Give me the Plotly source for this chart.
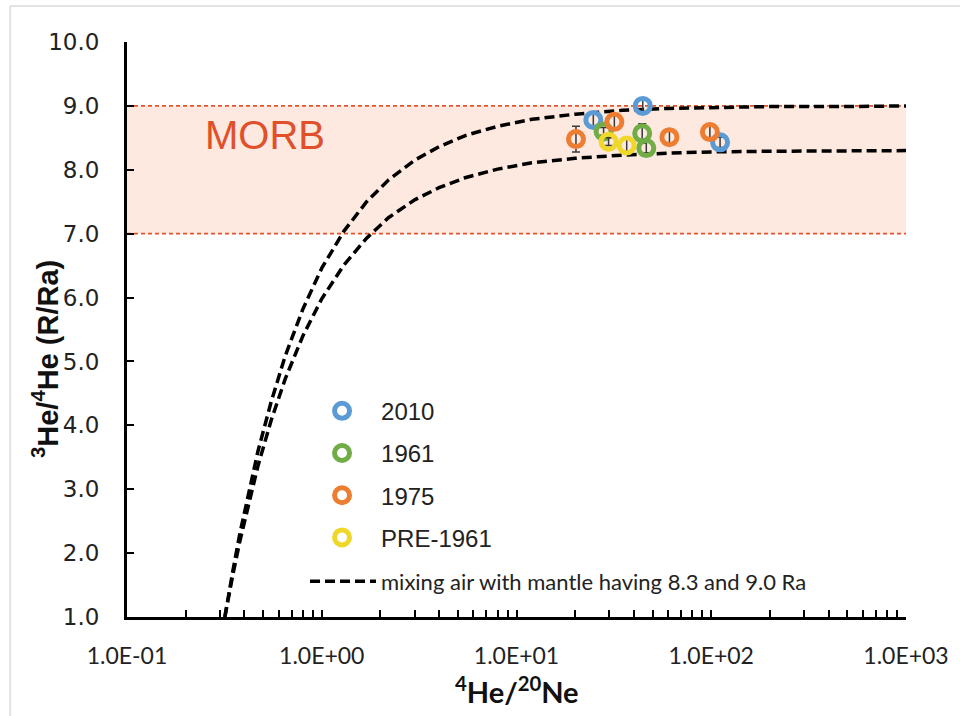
import plotly.graph_objects as go

# ---------------- data ----------------
series_names = ["2010", "1961", "1975", "PRE-1961"]
series_colors = ["#5B9BD5", "#70AD47", "#ED7D31", "#F0D82A"]

x_2010 = [24.8, 44.5, 111.0]
y_2010 = [8.78, 9.00, 8.43]
e_2010 = [0.12, 0.12, 0.08]

x_1961 = [28.0, 44.2, 46.4]
y_1961 = [8.60, 8.57, 8.34]
e_1961 = [0.06, 0.15, 0.12]

x_1975 = [20.2, 31.8, 61.0, 98.4]
y_1975 = [8.48, 8.75, 8.51, 8.59]
e_1975 = [0.20, 0.10, 0.10, 0.12]

x_pre = [29.7, 36.8]
y_pre = [8.44, 8.38]
e_pre = [0.06, 0.12]

# mixing curves
mix_x = [0.318, 0.33, 0.35, 0.38, 0.42, 0.47, 0.55, 0.65, 0.8, 1.0, 1.3, 1.7,
         2.2, 3.0, 4.0, 5.5, 8.0, 12.0, 20.0, 35.0, 60.0, 100.0, 200.0, 500.0, 1000.0]
mix_y_90 = [1.00, 1.29, 1.73, 2.31, 2.94, 3.59, 4.37, 5.09, 5.82, 6.46, 7.04, 7.50,
            7.84, 8.15, 8.36, 8.54, 8.68, 8.79, 8.87, 8.93, 8.96, 8.97, 8.99, 8.99, 9.00]
mix_y_83 = [1.00, 1.27, 1.67, 2.19, 2.77, 3.36, 4.08, 4.73, 5.40, 5.98, 6.51, 6.93,
            7.25, 7.53, 7.72, 7.88, 8.01, 8.11, 8.18, 8.23, 8.26, 8.28, 8.29, 8.30, 8.30]

morb_low, morb_high = 7.0, 9.0

x_tickvals = [0.1, 1, 10, 100, 1000]
x_ticktext = ["1.0E-01", "1.0E+00", "1.0E+01", "1.0E+02", "1.0E+03"]
y_tickvals = [1, 2, 3, 4, 5, 6, 7, 8, 9, 10]

# ---------------- figure ----------------
fig = go.Figure()

fig.add_trace(go.Scatter(x=mix_x, y=mix_y_90, mode="lines",
                         line=dict(color="black", width=3.5, dash="10px,5px"),
                         name="mixing air with mantle having 8.3 and 9.0 Ra",
                         legend="legend2", showlegend=True))
fig.add_trace(go.Scatter(x=mix_x, y=mix_y_83, mode="lines",
                         line=dict(color="black", width=3.5, dash="10px,5px"),
                         showlegend=False))

all_series = [(x_2010, y_2010, e_2010), (x_1961, y_1961, e_1961),
              (x_1975, y_1975, e_1975), (x_pre, y_pre, e_pre)]
for (xs, ys, es), nm, col in zip(all_series, series_names, series_colors):
    fig.add_trace(go.Scatter(
        x=xs, y=ys, mode="markers", name=nm, legendgroup=nm,
        marker=dict(symbol="circle-open", size=15, color=col, line=dict(width=5, color=col)),
        error_y=dict(type="data", array=es, color="#3a3a3a", thickness=1.5, width=4),
    ))

# MORB band
fig.add_shape(type="rect", xref="paper", yref="y", x0=0, x1=1, y0=morb_low, y1=morb_high,
              fillcolor="#FDE9DF", line_width=0, layer="below")
for yv in (morb_low, morb_high):
    fig.add_shape(type="line", xref="paper", yref="y", x0=0, x1=1, y0=yv, y1=yv,
                  line=dict(color="#E0552E", width=1.6, dash="4px,3px"), layer="below")

# faint outer frame
fig.add_shape(type="line", xref="paper", yref="paper", x0=-0.150, x1=-0.150, y0=-0.2, y1=1.0626,
              line=dict(color="#E2E2E2", width=2))
fig.add_shape(type="line", xref="paper", yref="paper", x0=-0.150, x1=1.1, y0=1.0626, y1=1.0626,
              line=dict(color="#E2E2E2", width=2))

fig.add_annotation(x=-0.292, y=8.55, xref="x", yref="y", text="MORB", showarrow=False,
                   font=dict(family="Liberation Sans, Arial", size=40, color="#E0502A"))

fig.add_annotation(x=-0.105, y=0.449, xref="paper", yref="paper",
                   text="<b><sup>3</sup>He/<sup>4</sup>He (R/Ra)</b>", textangle=-90,
                   showarrow=False, xanchor="center", yanchor="middle",
                   font=dict(family="Liberation Sans, Arial", size=29, color="#111"))
fig.add_annotation(x=0.5, y=-0.127, xref="paper", yref="paper",
                   text="<b><sup>4</sup>He/<sup>20</sup>Ne</b>",
                   showarrow=False, xanchor="center", yanchor="middle",
                   font=dict(family="Lato", size=29, color="#111"))

fig.update_layout(
    width=960, height=716,
    margin=dict(l=127, r=54, t=42, b=99),
    paper_bgcolor="white", plot_bgcolor="white",
    showlegend=True,
    legend=dict(x=0.226, y=0.397, xanchor="left", yanchor="top",
                font=dict(family="Liberation Sans, Arial", size=24, color="#222"),
                bgcolor="rgba(0,0,0,0)", itemwidth=68, tracegroupgap=8),
    legend2=dict(x=0.2285, y=0.062, xanchor="left", yanchor="middle",
                 font=dict(family="Lato", size=22, color="#222"),
                 bgcolor="rgba(0,0,0,0)", itemwidth=66),
    xaxis=dict(type="log", range=[-1, 3], tickvals=x_tickvals, ticktext=x_ticktext,
               ticks="inside", ticklen=7, tickwidth=2, tickcolor="black",
               showline=True, linecolor="black", linewidth=3, showgrid=False, zeroline=False,
               tickfont=dict(family="Lato", size=23, color="#222"), ticklabelstandoff=16,
               minor=dict(ticks="inside", ticklen=7, tickwidth=2, tickcolor="black",
                          dtick="D1", showgrid=False)),
    yaxis=dict(range=[1, 10], tickvals=y_tickvals, tickformat=".1f",
               ticks="inside", ticklen=7, tickwidth=2, tickcolor="black",
               showline=True, linecolor="black", linewidth=3, showgrid=False, zeroline=False,
               tickfont=dict(family="DejaVu Sans", size=23, color="#222"), ticklabelstandoff=20),
)

fig.write_html("out.html")
